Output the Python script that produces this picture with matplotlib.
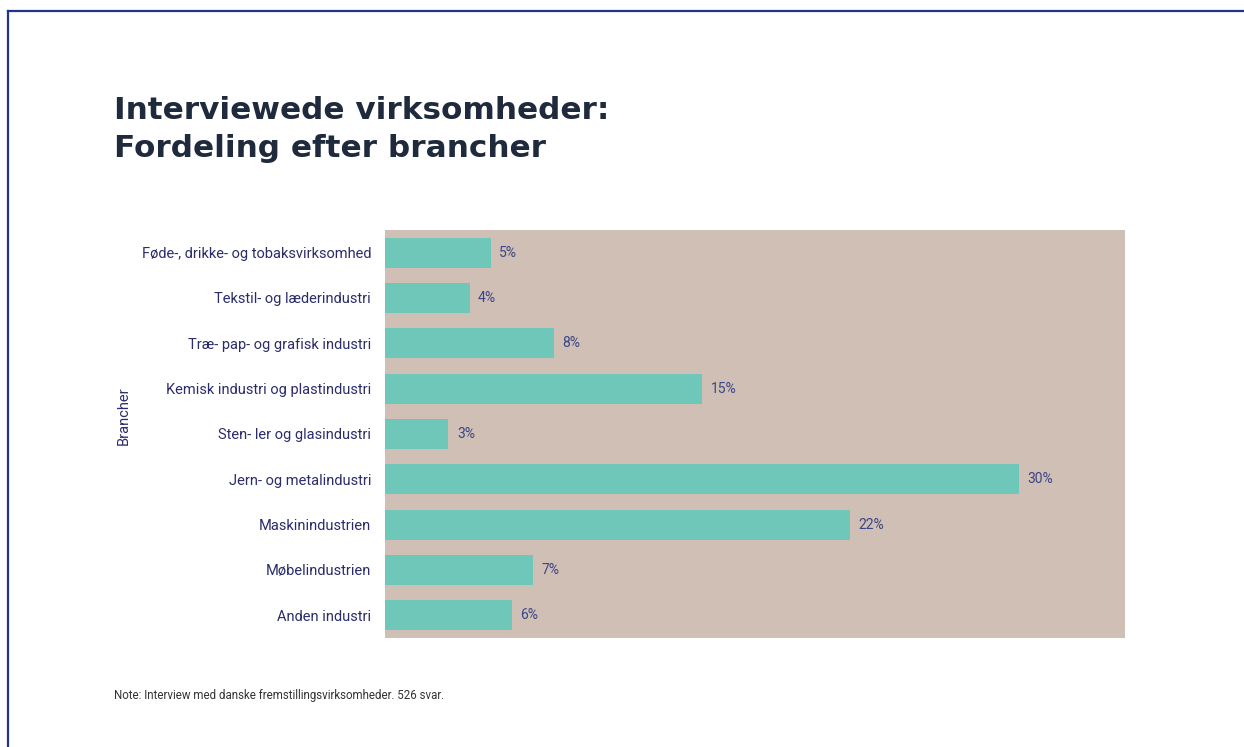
import matplotlib.pyplot as plt
from matplotlib.lines import Line2D

# Data
categories = [
    "Føde-, drikke- og tobaksvirksomhed",
    "Tekstil- og læderindustri",
    "Træ- pap- og grafisk industri",
    "Kemisk industri og plastindustri",
    "Sten- ler og glasindustri",
    "Jern- og metalindustri",
    "Maskinindustrien",
    "Møbelindustrien",
    "Anden industri",
]
values = [5, 4, 8, 15, 3, 30, 22, 7, 6]
value_labels = ["5%", "4%", "8%", "15%", "3%", "30%", "22%", "7%", "6%"]

title = "Interviewede virksomheder:\nFordeling efter brancher"
y_title = "Brancher"
note = "Note: Interview med danske fremstillingsvirksomheder. 526 svar."

# Farver
bar_color = "#6fc7b9"
bg_color = "#cfbfb4"
label_color = "#2b2d6a"
value_color = "#3b4589"
title_color = "#1f2a3d"
frame_color = "#1f3589"

plt.rcParams['font.family'] = ['Roboto', 'DejaVu Sans']

W, H = 1244, 747
fig = plt.figure(figsize=(W / 100, H / 100), dpi=100)

# Ramme (top og venstre)
fig.add_artist(Line2D([8 / W, 1], [1 - 11 / H, 1 - 11 / H], color=frame_color, lw=1.6,
                      transform=fig.transFigure))
fig.add_artist(Line2D([8 / W, 8 / W], [0, 1 - 11 / H], color=frame_color, lw=1.6,
                      transform=fig.transFigure))

ax = fig.add_axes([385 / W, 1 - 638 / H, 740 / W, 408 / H])
ax.set_facecolor(bg_color)

y = list(range(len(categories)))
ax.barh(y, values, height=0.66, color=bar_color)
for yi, v, lab in zip(y, values, value_labels):
    ax.text(v + 0.4, yi, lab, va="center", ha="left", fontsize=10, color=value_color)

ax.set_xlim(0, 35)
ax.set_ylim(len(categories) - 0.5, -0.5)
ax.set_yticks(y)
ax.set_yticklabels(categories, fontsize=10.5, color=label_color)
ax.set_xticks([])
ax.tick_params(axis="y", length=0, pad=10)
for s in ax.spines.values():
    s.set_visible(False)

fig.text(117 / W, 1 - 416 / H, y_title, rotation=90, ha="left", va="center",
         fontsize=10.5, color=label_color)

fig.text(114 / W, 1 - 96 / H, title, ha="left", va="top", fontsize=22.4,
         fontweight="heavy", color=title_color, linespacing=1.4,
         family="DejaVu Sans")

fig.text(114 / W, 1 - 695 / H, note, ha="left", va="center", fontsize=8.3, color="#333333")

fig.savefig("out.png", dpi=100, facecolor="white")
